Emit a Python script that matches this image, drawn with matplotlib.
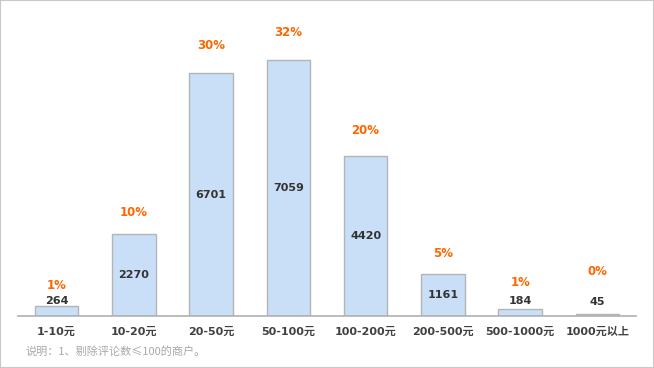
import matplotlib.pyplot as plt
import numpy as np

plt.rcParams['font.family'] = ['DejaVu Sans', 'Noto Sans CJK SC']

# data
categories = ['1-10元', '10-20元', '20-50元', '50-100元', '100-200元', '200-500元', '500-1000元', '1000元以上']
counts = [264, 2270, 6701, 7059, 4420, 1161, 184, 45]
total = sum(counts)
percents = [round(c / total * 100) for c in counts]

# label offsets above the bar top (points)
pct_offset = [15, 15, 20, 20, 18, 15, 19.5, 31]
cnt_offset = [3.6, 5.8, 8.6]

fig = plt.figure(figsize=(6.54, 3.68), dpi=100)
fig.patches.append(plt.Rectangle((0, 0), 1, 1, transform=fig.transFigure,
                                 fill=False, edgecolor='#c8c8c8', linewidth=1.5))
ax = fig.add_axes([18 / 654, 1 - 316 / 368, 618 / 654, 306 / 368])

x = np.arange(len(categories))
ax.bar(x, counts, width=0.56, color='#c9dff7', edgecolor='#b4b4b4', linewidth=1)
ax.set_xlim(-0.5, len(categories) - 0.5)
ax.set_ylim(0, 8440)

for s in ['top', 'right', 'left']:
    ax.spines[s].set_visible(False)
ax.spines['bottom'].set_color('#b0b0b0')
ax.spines['bottom'].set_linewidth(1.2)
ax.set_yticks([])
ax.set_xticks(x)
ax.set_xticklabels(categories, fontsize=8, fontweight='bold', color='#404040')
ax.tick_params(axis='x', length=0, pad=8)

small = 0
for i, (c, p) in enumerate(zip(counts, percents)):
    if c > 1000:
        ax.text(i, c / 2, str(c), ha='center', va='center', fontsize=8,
                fontweight='bold', color='#333333')
    else:
        ax.annotate(str(c), (i, c), xytext=(0, cnt_offset[small]), textcoords='offset points',
                    ha='center', va='center', fontsize=8, fontweight='bold', color='#333333')
        small += 1
    ax.annotate(f'{p}%', (i, c), xytext=(0, pct_offset[i]), textcoords='offset points',
                ha='center', va='center', fontsize=8.5, fontweight='bold', color='#ff6600')

fig.text(25 / 654, 1 - 351 / 368, '说明：1、剔除评论数≤100的商户。', fontsize=8,
         color='#a8a8a8', va='center', ha='left', family=['Noto Sans CJK SC', 'DejaVu Sans'])

fig.savefig('out.png', dpi=100)
